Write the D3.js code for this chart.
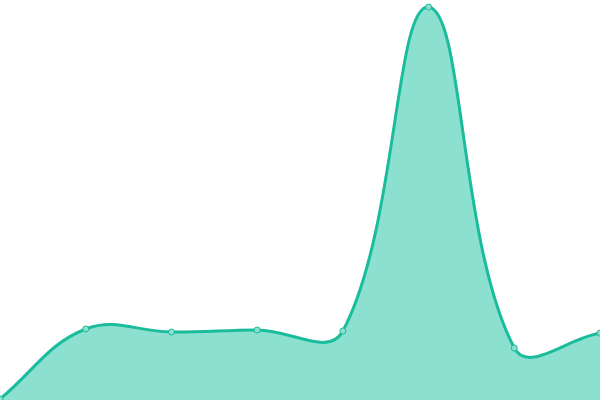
<!DOCTYPE html>
<html>
<head>
<meta charset="utf-8">
<script src="https://cdn.jsdelivr.net/npm/d3@7"></script>
<style>
  html, body { margin: 0; padding: 0; background: #fff; }
  svg { display: block; }
</style>
</head>
<body>
<svg id="chart" width="600" height="400"></svg>
<script>
// one point per step
var labels = ["1", "2", "3", "4", "5", "6", "7", "8"]
var values = [1, 71, 68, 70, 69, 393, 52, 67]

var width = 600
var height = 400
var tension = 0.4

var svg = d3.select("#chart")

var x = d3.scalePoint()
  .domain(labels)
  .range([0, width])

var y = d3.scaleLinear()
  .domain([0, 400])
  .range([height, 0])

// spline with distance weighted control points, capped to the plot box
function SplineCurve(context){ this._context = context }
SplineCurve.prototype = {
  areaStart: function(){ this._line = 0 },
  areaEnd: function(){ this._line = NaN },
  lineStart: function(){ this._x = []; this._y = [] },
  point: function(px, py){ this._x.push(+px); this._y.push(+py) },
  lineEnd: function(){
    var xs = this._x, ys = this._y, n = xs.length, ctx = this._context
    if (n) {
      this._line ? ctx.lineTo(xs[0], ys[0]) : ctx.moveTo(xs[0], ys[0])
      if (n === 2) ctx.lineTo(xs[1], ys[1])
      else if (n > 2) {
        var cpIn = [], cpOut = []
        for (var i = 0; i < n; i++) {
          var p = i > 0 ? i - 1 : i, q = i < n - 1 ? i + 1 : i
          var d01 = Math.hypot(xs[i] - xs[p], ys[i] - ys[p])
          var d12 = Math.hypot(xs[q] - xs[i], ys[q] - ys[i])
          var s01 = d01 / (d01 + d12) || 0, s12 = d12 / (d01 + d12) || 0
          var fa = tension * s01, fb = tension * s12
          var dx = xs[q] - xs[p], dy = ys[q] - ys[p]
          cpIn.push([clamp(xs[i] - fa * dx, 0, width), clamp(ys[i] - fa * dy, 0, height)])
          cpOut.push([clamp(xs[i] + fb * dx, 0, width), clamp(ys[i] + fb * dy, 0, height)])
        }
        for (var j = 1; j < n; j++) {
          ctx.bezierCurveTo(cpOut[j - 1][0], cpOut[j - 1][1], cpIn[j][0], cpIn[j][1], xs[j], ys[j])
        }
      }
    }
    if (this._line || (this._line !== 0 && n === 1)) ctx.closePath()
    this._line = 1 - this._line
    this._x = this._y = null
  }
}
function clamp(v, lo, hi){ return Math.max(lo, Math.min(hi, v)) }
var splineCurve = function(context){ return new SplineCurve(context) }

var data = labels.map(function(l, i){ return { label: l, value: values[i] } })

var area = d3.area()
  .x(function(d){ return x(d.label) })
  .y0(height)
  .y1(function(d){ return y(d.value) })
  .curve(splineCurve)

var line = d3.line()
  .x(function(d){ return x(d.label) })
  .y(function(d){ return y(d.value) })
  .curve(splineCurve)

svg.append("path")
  .datum(data)
  .attr("d", area)
  .style("fill", "#8be0cf")

svg.append("path")
  .datum(data)
  .attr("d", line)
  .style("fill", "none")
  .style("stroke", "#1abc9c")
  .style("stroke-width", 3)

svg.selectAll("circle")
  .data(data)
  .enter()
  .append("circle")
  .attr("cx", function(d){ return x(d.label) })
  .attr("cy", function(d){ return y(d.value) })
  .attr("r", 3)
  .style("fill", "#8be0cf")
  .style("stroke", "#1abc9c")
  .style("stroke-width", 1)
</script>
</body>
</html>
